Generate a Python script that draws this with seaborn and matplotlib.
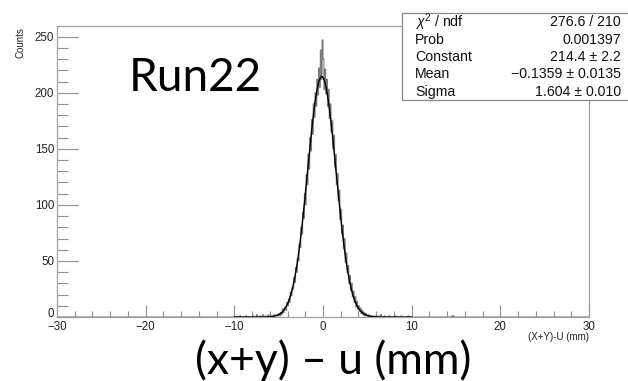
import numpy as np
import pandas as pd
import matplotlib
matplotlib.use("Agg")
import matplotlib.pyplot as plt
from matplotlib.patches import Rectangle
from matplotlib.ticker import MultipleLocator
from matplotlib.transforms import ScaledTranslation
import seaborn as sns

# Histogram of (X+Y)-U residuals, 0.1 mm bins over [-30, 30]
bin_width = 0.1
x_min, x_max = -30.0, 30.0

# Counts for the core bins, centres -5.95 ... 5.95
core_first_center = -5.95
core_counts = [
    0, 1, 0, 1, 0, 2, 1, 1, 2, 1,
    3, 1, 4, 2, 7, 4, 8, 9, 6, 13,
    10, 16, 13, 22, 19, 26, 25, 35, 31, 44,
    40, 52, 50, 65, 62, 80, 74, 93, 88, 110,
    100, 127, 118, 145, 132, 160, 148, 176, 163, 190,
    178, 200, 188, 212, 198, 222, 205, 238, 212, 247,
    230, 203, 221, 199, 212, 188, 203, 177, 190, 165,
    175, 150, 162, 134, 145, 118, 128, 104, 113, 87,
    96, 74, 82, 61, 70, 49, 57, 40, 46, 30,
    37, 24, 30, 18, 23, 13, 18, 9, 14, 7,
    10, 5, 8, 3, 6, 2, 4, 1, 3, 1,
    1, 2, 0, 1, 0, 1, 0, 0, 1, 0,
]

# Sparse entries in the tails
tail_centers = [-9.35, -8.65, -7.85, -7.45, -7.05, -6.75, -6.45, -6.15,
                6.25, 6.55, 6.95, 7.45, 8.15, 8.85, 9.65, 14.55, 14.75]
tail_counts = [1, 1, 1, 2, 1, 2, 1, 2,
               1, 2, 1, 1, 1, 1, 1, 1, 1]

# Gaussian fit results
chi2, ndf = 276.6, 210
prob = 0.001397
const, const_err = 214.4, 2.2
mean, mean_err = -0.1359, 0.0135
sigma, sigma_err = 1.604, 0.010

stat_names = [r"$\chi^2$ / ndf", "Prob", "Constant", "Mean", "Sigma"]
stat_values = [f"{chi2} / {ndf}", f"{prob}", f"{const} \u00b1 {const_err}",
               f"\u2212{abs(mean)} \u00b1 {mean_err}", f"{sigma} \u00b1 {sigma_err:.3f}"]

x_tick_values = [-30, -20, -10, 0, 10, 20, 30]
x_tick_labels = ["\u221230", "\u221220", "\u221210", "0", "10", "20", "30"]
y_tick_values = [0, 50, 100, 150, 200, 250]
y_tick_labels = ["0", "50", "100", "150", "200", "250"]

# Build the full binned table
n_bins = int(round((x_max - x_min) / bin_width))
edges = x_min + bin_width * np.arange(n_bins + 1)
centers = edges[:-1] + bin_width / 2
counts = np.zeros(n_bins)
first = int(round((core_first_center - x_min) / bin_width - 0.5))
counts[first:first + len(core_counts)] = core_counts
for c, n in zip(tail_centers, tail_counts):
    counts[int((c - x_min) / bin_width)] += n
hist_df = pd.DataFrame({"x": centers, "n": counts})

xf = np.linspace(-10, 10, 800)
fit_df = pd.DataFrame({"x": xf, "y": const * np.exp(-0.5 * ((xf - mean) / sigma) ** 2)})

sns.set_theme(style="white")
plt.rcParams["font.family"] = ["Liberation Sans", "DejaVu Sans"]
plt.rcParams["mathtext.fontset"] = "custom"
plt.rcParams["mathtext.rm"] = "Liberation Sans"
plt.rcParams["mathtext.it"] = "Liberation Sans:italic"

fig = plt.figure(figsize=(6.28, 3.81), dpi=100)
ax = fig.add_axes([57 / 628, 1 - 317 / 381, (589 - 57) / 628, (317 - 26) / 381])

sns.histplot(data=hist_df, x="x", weights="n", binwidth=bin_width,
             binrange=(x_min, x_max), element="step",
             fill=False, color="#7a7a7a", linewidth=0.8, ax=ax)
sns.lineplot(data=fit_df, x="x", y="y", color="black", linewidth=1.0, ax=ax)

ax.set_xlim(x_min, x_max)
ax.set_ylim(0, 259.5)
ax.set_xlabel("")
ax.set_ylabel("")

for s in ax.spines.values():
    s.set_color("#a0a0a0")
    s.set_linewidth(0.9)

ax.xaxis.set_minor_locator(MultipleLocator(2))
ax.yaxis.set_minor_locator(MultipleLocator(10))
ax.tick_params(which="both", direction="in", color="#909090", width=0.8,
               labelsize=8.3, labelcolor="#222222", top=False, right=False,
               bottom=True, left=True)
ax.tick_params(axis="x", which="major", length=9, pad=3)
ax.tick_params(axis="x", which="minor", length=4.5)
ax.tick_params(axis="y", which="major", length=15, pad=2)
ax.tick_params(axis="y", which="minor", length=8)
ax.set_xticks(x_tick_values)
ax.set_xticklabels(x_tick_labels)
ax.set_yticks(y_tick_values)
ax.set_yticklabels(y_tick_labels)

# lift the zero label on the y axis a little so it clears the x labels
zero_label = ax.get_yticklabels()[0]
zero_label.set_transform(zero_label.get_transform()
                         + ScaledTranslation(0, 3 / 72, fig.dpi_scale_trans))

fig.text(20 / 628, 1 - 27 / 381, "Counts", rotation=90, ha="center", va="top",
         fontsize=7, color="#222222")
fig.text(589 / 628, 1 - 337 / 381, "(X+Y)-U (mm)", ha="right", va="center",
         fontsize=7, color="#222222")

fig.text(195 / 628, 1 - 78 / 381, "Run22", ha="center", va="center",
         fontsize=33, color="black", family=["Lato", "DejaVu Sans"])
fig.text(333 / 628, 1 - 361 / 381, "(x+y) \u2013 u (mm)", ha="center", va="center",
         fontsize=32, color="black", family=["Lato", "DejaVu Sans"])

# Fit statistics box
box = Rectangle((402 / 628, 1 - 100 / 381), (640 - 402) / 628, (100 - 13) / 381,
                transform=fig.transFigure, facecolor="white", edgecolor="#8a8a8a",
                linewidth=0.9, zorder=5, clip_on=False)
fig.add_artist(box)
row_h = 17.5
for i, (name, val) in enumerate(zip(stat_names, stat_values)):
    yy = 1 - (22 + i * row_h) / 381
    fig.text(415 / 628, yy, name, ha="left", va="center", fontsize=10.2,
             color="#111111", zorder=6)
    fig.text(621 / 628, yy, val, ha="right", va="center", fontsize=10.2,
             color="#111111", zorder=6)

fig.savefig("out.png", dpi=100)
